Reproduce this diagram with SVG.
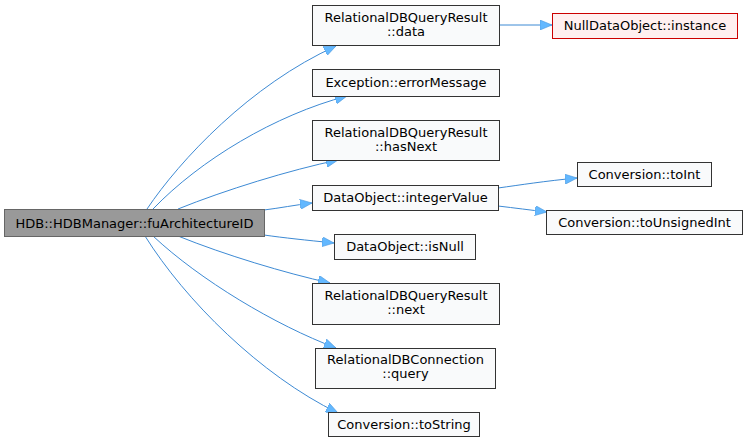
<svg xmlns="http://www.w3.org/2000/svg" width="747" height="443" viewBox="0 0 747 443">
<style>
text{font-family:"DejaVu Sans",sans-serif;font-size:13px;fill:#000;text-anchor:middle}
.n{fill:#f9fafb;stroke:#333333;stroke-width:1}
.m{fill:#999999;stroke:#666666;stroke-width:1}
.r{fill:#fff0f0;stroke:#cc0000;stroke-width:1}
.e{fill:none;stroke:#3d8ad4;stroke-width:1}
</style>
<defs>
<marker id="ah" markerWidth="12" markerHeight="10" refX="12" refY="5" orient="auto" markerUnits="userSpaceOnUse">
<path d="M0,0 L12,5 L0,10 Z" fill="#63b8ff" stroke="#4a97de" stroke-width="0.6"/>
</marker>
</defs>
<g id="edges">
<path class="e" marker-end="url(#ah)" d="M147,209 C180,160 250,85 336,46"/>
<path class="e" marker-end="url(#ah)" d="M153,209 C200,160 275,115 347,96"/>
<path class="e" marker-end="url(#ah)" d="M178,209 C225,190 290,170 338,160"/>
<path class="e" marker-end="url(#ah)" d="M264,210 C280,208 295,205 312,203"/>
<path class="e" marker-end="url(#ah)" d="M264,235 C285,238 305,240 334,243"/>
<path class="e" marker-end="url(#ah)" d="M178,236 C225,255 285,273 330,283"/>
<path class="e" marker-end="url(#ah)" d="M153,236 C200,280 275,325 336,348"/>
<path class="e" marker-end="url(#ah)" d="M145,236 C185,300 260,375 338,413"/>
<path class="e" marker-end="url(#ah)" d="M499,25 L552,25"/>
<path class="e" marker-end="url(#ah)" d="M498,188 C520,185 545,181 577,178"/>
<path class="e" marker-end="url(#ah)" d="M498,206 C515,208 530,210 547,212"/>
</g>
<g id="main"><rect class="m" x="4.5" y="209.5" width="260" height="27"/><text x="134.5" y="227.5">HDB::HDBManager::fuArchitectureID</text></g>
<g id="data"><rect class="n" x="312.5" y="5.5" width="187" height="40"/><text x="406" y="21.5">RelationalDBQueryResult</text><text x="406" y="35.5">::data</text></g>
<g id="null"><rect class="r" x="552.5" y="13.5" width="185" height="25"/><text x="645" y="30">NullDataObject::instance</text></g>
<g id="errorMessage"><rect class="n" x="312.5" y="69.5" width="187" height="27"/><text x="406" y="87">Exception::errorMessage</text></g>
<g id="hasNext"><rect class="n" x="312.5" y="120.5" width="187" height="40"/><text x="406" y="136.5">RelationalDBQueryResult</text><text x="406" y="150.5">::hasNext</text></g>
<g id="integerValue"><rect class="n" x="312.5" y="185.5" width="186" height="25"/><text x="405.5" y="202">DataObject::integerValue</text></g>
<g id="isNull"><rect class="n" x="334.5" y="234.5" width="141" height="25"/><text x="405" y="251">DataObject::isNull</text></g>
<g id="toInt"><rect class="n" x="577.5" y="162.5" width="134" height="24"/><text x="644.5" y="179">Conversion::toInt</text></g>
<g id="toUnsignedInt"><rect class="n" x="546.5" y="210.5" width="196" height="24"/><text x="644.5" y="227">Conversion::toUnsignedInt</text></g>
<g id="next"><rect class="n" x="312.5" y="283.5" width="187" height="41"/><text x="406" y="299.5">RelationalDBQueryResult</text><text x="406" y="313.5">::next</text></g>
<g id="query"><rect class="n" x="315.5" y="348.5" width="180" height="40"/><text x="405.5" y="364">RelationalDBConnection</text><text x="405.5" y="378">::query</text></g>
<g id="toString"><rect class="n" x="328.5" y="412.5" width="151" height="24"/><text x="404" y="429">Conversion::toString</text></g>
</svg>
